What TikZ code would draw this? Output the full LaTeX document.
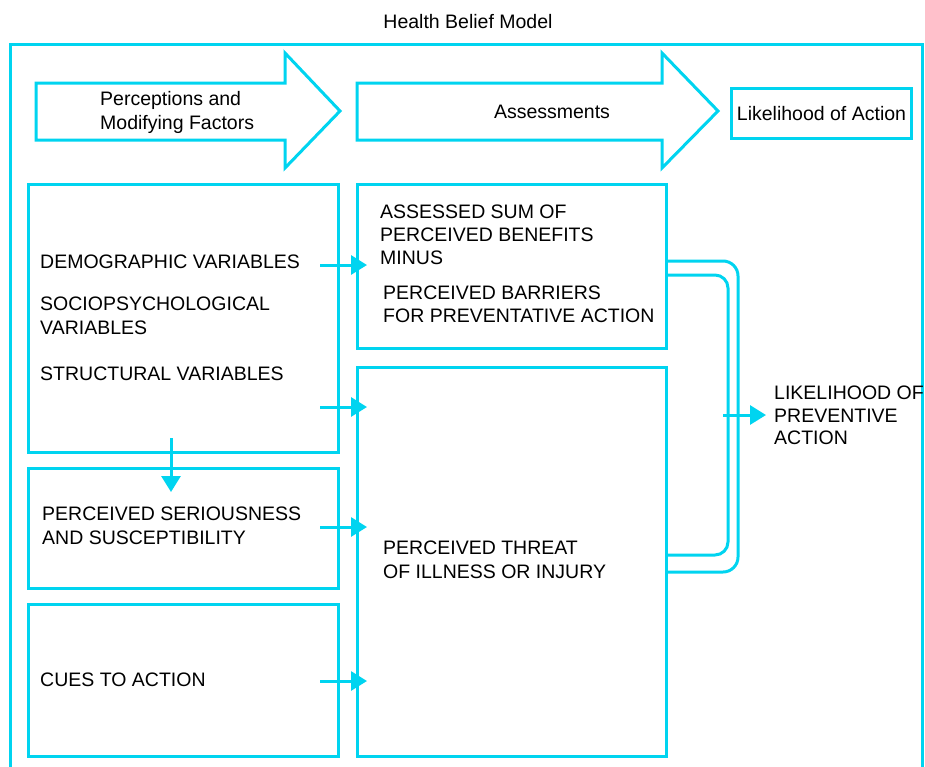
\documentclass[tikz,border=0pt]{standalone}
\usepackage{fontspec}
\setmainfont{Liberation Sans}
\usetikzlibrary{arrows.meta,calc}
\definecolor{hbmcyan}{RGB}{0,212,240}
\begin{document}
\begin{tikzpicture}[x=1pt,y=-1pt,
  line/.style={draw=hbmcyan,line width=3pt},
  box/.style={line, rectangle, inner sep=0pt, anchor=north west},
  lbl/.style={inner sep=0pt, anchor=north west, align=left, font=\fontsize{19.5}{24}\selectfont},
  ctr/.style={inner sep=0pt, font=\fontsize{19.5}{24}\selectfont},
  arr/.style={line, -{Triangle[length=16pt,width=19pt]}},
  bigarrow/.style={line, line join=miter}
]
\fill[white] (0,0) rectangle (925,766);
\useasboundingbox (0,0) rectangle (925,766);

% title and frame
\node[ctr] (title) at (468,22) {Health Belief Model};
\draw[line] (10,770) -- (10,44) -- (922,44) -- (922,770);

% block arrows
\draw[bigarrow] (36,83) -- (285,83) -- (285,53) -- (340,111) -- (285,168) -- (285,140) -- (36,140) -- cycle;
\draw[bigarrow] (357,83) -- (662,83) -- (662,53) -- (718,111) -- (662,168) -- (662,140) -- (357,140) -- cycle;
\node[lbl] (pmf) at (100,91) {Perceptions and\\Modifying Factors};
\node[ctr] (asm) at (552,112) {Assessments};
\node[box, ctr, minimum width=180pt, minimum height=50pt, anchor=north west] (L) at (730,87) {Likelihood of Action};

% boxes
\node[box, minimum width=310pt, minimum height=268pt] (A) at (27,183) {};
\node[box, minimum width=310pt, minimum height=120pt] (B) at (27,467) {};
\node[box, minimum width=310pt, minimum height=152pt] (C) at (27,603) {};
\node[box, minimum width=309pt, minimum height=164pt] (D) at (356,183) {};
\node[box, minimum width=309pt, minimum height=389pt] (E) at (356,366) {};

% texts
\node[lbl] (dem) at (40,255) {DEMOGRAPHIC VARIABLES};
\node[lbl] (soc) at (40,297) {SOCIOPSYCHOLOGICAL\\VARIABLES};
\node[lbl] (str) at (40,367) {STRUCTURAL VARIABLES};
\node[lbl] (ps) at (42,507) {PERCEIVED SERIOUSNESS\\AND SUSCEPTIBILITY};
\node[lbl] (cue) at (40,673) {CUES TO ACTION};
\node[lbl, font=\fontsize{19.5}{23}\selectfont] (ass) at (380,205) {ASSESSED SUM OF\\PERCEIVED BENEFITS\\MINUS};
\node[lbl, font=\fontsize{19.5}{23}\selectfont] (pb) at (383,286) {PERCEIVED BARRIERS\\FOR PREVENTATIVE ACTION};
\node[lbl] (pt) at (383,541) {PERCEIVED THREAT\\OF ILLNESS OR INJURY};
\node[lbl, font=\fontsize{19.5}{22.5}\selectfont] (lpa) at (774,386) {LIKELIHOOD OF\\PREVENTIVE\\ACTION};

% connectors
\coordinate (s1) at (320,265);
\coordinate (s2) at (320,407);
\coordinate (s3) at (320,527);
\coordinate (s4) at (320,681);
\coordinate (s5) at (171,438);
\coordinate (s6) at (723,415);
\draw[arr] (s1) -- ($(D.west |- s1)+(11,0)$);
\draw[arr] (s2) -- ($(E.west |- s2)+(11,0)$);
\draw[arr] (s3) -- ($(E.west |- s3)+(11,0)$);
\draw[arr] (s4) -- ($(E.west |- s4)+(11,0)$);
\draw[arr] (s5) -- ($(B.north -| s5)+(0,25)$);
\draw[arr] (s6) -- ($(lpa.west |- s6)+(-8,0)$);

% brackets
\coordinate (o1) at (738,261);
\coordinate (o2) at (738,572);
\coordinate (i1) at (728,275);
\coordinate (i2) at (728,555);
\draw[line, rounded corners=15pt] (D.east |- o1) -- (o1) -- (o2) -- (E.east |- o2);
\draw[line, rounded corners=13pt] (D.east |- i1) -- (i1) -- (i2) -- (E.east |- i2);
\end{tikzpicture}
\end{document}
